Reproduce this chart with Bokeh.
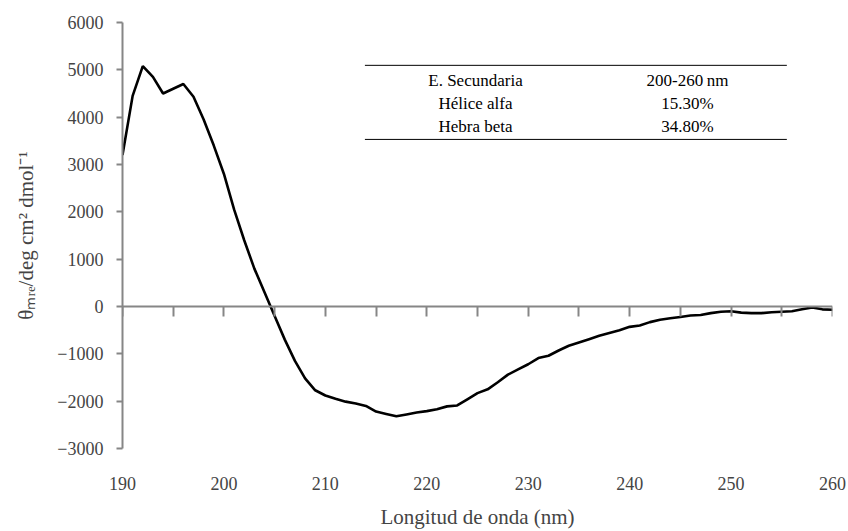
from bokeh.plotting import figure
from bokeh.models import (LinearAxis, FixedTicker, Range1d, CustomJSTickFormatter,
                          ColumnDataSource)
from bokeh.embed import file_html
from bokeh.resources import INLINE
from bokeh.core.properties import value

# ---- data ----
wavelength = list(range(190, 261))
ellipticity = [3200, 4450, 5080, 4850, 4500, 4600, 4700, 4430, 3950, 3400,
               2800, 2050, 1400, 800, 300, -200, -700, -1150, -1520, -1770,
               -1880, -1950, -2010, -2050, -2100, -2220, -2270, -2320, -2280, -2240,
               -2210, -2170, -2110, -2090, -1960, -1830, -1750, -1600, -1440, -1330,
               -1220, -1090, -1040, -930, -830, -760, -690, -620, -560, -500,
               -430, -400, -330, -280, -250, -220, -190, -180, -140, -110,
               -100, -130, -140, -140, -120, -110, -100, -60, -20, -60,
               -70]
x_ticks = [190, 200, 210, 220, 230, 240, 250, 260]
x_minor = list(range(190, 261, 5))
y_ticks = [-3000, -2000, -1000, 0, 1000, 2000, 3000, 4000, 5000, 6000]

table_col1 = ["E. Secundaria", "Hélice alfa", "Hebra beta"]
table_col2 = ["200-260\u2009nm", "15.30%", "34.80%"]

FONT = "Liberation Serif"
GREY = "#868686"

p = figure(width=848, height=531, output_backend="svg", toolbar_location=None,
           x_range=Range1d(190, 260), y_range=Range1d(-3000, 6000),
           x_axis_location=None, y_axis_location=None,
           min_border_left=122, min_border_right=16, min_border_top=22,
           min_border_bottom=83)
p.outline_line_color = None
p.xgrid.visible = False
p.ygrid.visible = False
p.background_fill_color = "white"

# left axis
yax = LinearAxis(ticker=FixedTicker(ticks=y_ticks),
                 formatter=CustomJSTickFormatter(code="return tick < 0 ? '\u2212' + Math.abs(tick) : tick.toString();"))
yax.axis_line_color = GREY
yax.axis_line_width = 2
yax.major_tick_line_color = GREY
yax.major_tick_line_width = 2
yax.major_tick_out = 6
yax.major_tick_in = 0
yax.minor_tick_line_color = None
yax.major_label_text_font = FONT
yax.major_label_text_font_size = "18px"
yax.major_label_standoff = 13
yax.axis_label = "θₘᵣₑ/deg cm² dmol⁻¹"
yax.axis_label_text_font = FONT
yax.axis_label_text_font_size = "21px"
yax.axis_label_text_font_style = "normal"
yax.axis_label_standoff = 16
p.add_layout(yax, "left")

# bottom axis: labels only
xax = LinearAxis(ticker=FixedTicker(ticks=x_ticks))
xax.axis_line_color = None
xax.major_tick_line_color = None
xax.minor_tick_line_color = None
xax.major_label_text_font = FONT
xax.major_label_text_font_size = "18px"
xax.major_label_standoff = 22
xax.axis_label = "Longitud de onda (nm)"
xax.axis_label_text_font = FONT
xax.axis_label_text_font_size = "21px"
xax.axis_label_text_font_style = "normal"
xax.axis_label_standoff = 12
p.add_layout(xax, "below")

# zero-crossing axis with ticks
zax = LinearAxis(ticker=FixedTicker(ticks=x_minor), fixed_location=0)
zax.axis_line_color = GREY
zax.axis_line_width = 2
zax.major_tick_line_color = GREY
zax.major_tick_line_width = 2
zax.major_tick_in = 10
zax.major_tick_out = 0
zax.minor_tick_line_color = None
zax.major_label_overrides = {t: "" for t in x_minor}
zax.major_label_text_font_size = "1px"
zax.major_label_standoff = 0
p.add_layout(zax, "above")

src = ColumnDataSource(dict(x=wavelength, y=ellipticity))
p.line("x", "y", source=src, line_color="black", line_width=2.6)

# table
p.segment(x0=[213.9, 213.9], y0=[5095, 3530], x1=[255.5, 255.5], y1=[5095, 3530],
          line_color="black", line_width=1)
rows_y = [4778, 4292, 3800]
p.text(x=[224.8] * 3, y=rows_y, text=table_col1, text_font=value(FONT),
       text_font_size="17px", text_align="center", text_baseline="middle",
       text_color="black")
p.text(x=[245.7] * 3, y=rows_y, text=table_col2, text_font=value(FONT),
       text_font_size="17px", text_align="center", text_baseline="middle",
       text_color="black")

open("out.html", "w").write(file_html(p, INLINE))
